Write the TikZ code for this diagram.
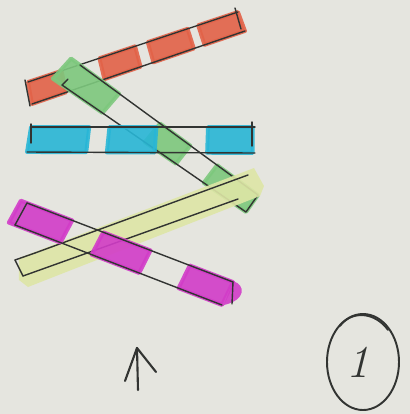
\documentclass[tikz,border=0pt]{standalone}
\usetikzlibrary{calc}
\definecolor{paper}{RGB}{229,229,223}
\definecolor{ink}{RGB}{50,52,50}
\definecolor{redc}{RGB}{226,98,72}
\definecolor{greenc}{RGB}{125,200,125}
\definecolor{cyanc}{RGB}{40,182,214}
\definecolor{yellowc}{RGB}{222,230,166}
\definecolor{magc}{RGB}{210,60,200}
\newcommand\stickpatch[4]{%
  \fill[#1,draw=#1,line width=2.2pt,line join=round,opacity=0.9]
    ($(#2S1)!#3!(#2E1)$) -- ($(#2S1)!#4!(#2E1)$) -- ($(#2S2)!#4!(#2E2)$) -- ($(#2S2)!#3!(#2E2)$) -- cycle;}
\tikzset{edge/.style={draw=ink,line width=0.8pt,line cap=round,line join=round}}
\begin{document}
\begin{tikzpicture}[x={(0.02cm,0)},y={(0,-0.02cm)}]
\fill[paper] (0,0) rectangle (410,414);
\useasboundingbox (0,0) rectangle (410,414);
% stick corners
\coordinate (rS1) at (28,82);  \coordinate (rE1) at (238,12);
\coordinate (rS2) at (32,104); \coordinate (rE2) at (245,31);
\coordinate (gS1) at (80,65);  \coordinate (gE1) at (258,195);
\coordinate (gS2) at (62,85);  \coordinate (gE2) at (246,212);
\coordinate (cS1) at (31,127); \coordinate (cE1) at (255,127);
\coordinate (cS2) at (27,152); \coordinate (cE2) at (255,153);
\coordinate (yS1) at (35,253); \coordinate (yE1) at (248,175);
\coordinate (yS2) at (23,276); \coordinate (yE2) at (238,199);
\coordinate (mS1) at (27,203); \coordinate (mE1) at (233,282);
\coordinate (mS2) at (15,225); \coordinate (mE2) at (222,305);
% red stick
\stickpatch{redc}{r}{0.0}{0.16}
\stickpatch{redc}{r}{0.34}{0.51}
\stickpatch{redc}{r}{0.57}{0.76}
\stickpatch{redc}{r}{0.81}{1.0}
\draw[edge] (rS1) -- (rE1);
\draw[edge] (rS2) -- (rE2);
\draw[edge] ($(rS1)+(-3,-2)$) -- ($(rS2)+(-2,2)$);
\draw[edge] ($(rE1)+(-3,-4)$) -- ($(rE2)+(-4,-2)$);
% green stick
\stickpatch{greenc}{g}{-0.05}{0.22}
\stickpatch{greenc}{g}{0.45}{0.62}
\stickpatch{greenc}{g}{0.77}{1.0}
\draw[edge] (gS1) -- (gE1) -- (gE2) -- (gS2);
\draw[edge] (gS2) -- ++(6,-6);
% cyan stick
\stickpatch{cyanc}{c}{0.0}{0.26}
\stickpatch{cyanc}{c}{0.35}{0.56}
\stickpatch{cyanc}{c}{0.79}{0.99}
\draw[edge] (cS1) -- (cE1);
\draw[edge] (cS2) -- (cE2);
\draw[edge] (31,124) -- (31,143);
\draw[edge] (252,122) -- (252,146);
% yellow stick
\fill[yellowc,opacity=0.9] (19,258) -- (254,168) -- (264,186) -- (260,196) -- (28,287) -- (19,280) -- cycle;
\draw[edge] (yS1) -- (yE1);
\draw[edge] (yS2) -- (yE2);
\draw[edge] ($(yS1)+(-20,7)$) -- (yS1);
\draw[edge] ($(yS1)+(-20,7)$) -- (yS2);
% magenta stick
\stickpatch{magc}{m}{-0.03}{0.22}
\stickpatch{magc}{m}{0.37}{0.6}
\stickpatch{magc}{m}{0.79}{1.0}
\fill[magc,opacity=0.9] ($(mE1)+(0,-1)$) .. controls (246,285) and (246,300) .. ($(mE2)+(2,0)$) -- cycle;
\draw[edge] (mS1) -- (mE1);
\draw[edge] (mS2) -- (mE2);
\draw[edge] (mS1) -- (mS2);
\draw[edge] (233,282) -- (232,304);
% arrow
\draw[edge,line width=1.2pt] (138,390) -- (137,348);
\draw[edge,line width=1.2pt] (125,381) -- (137,348) -- (156,372);
% circled number
\draw[edge,line width=1.1pt] (363,362) ellipse [x radius=36, y radius=48];
\draw[edge,line width=1.0pt] (340,326) .. controls (352,310) and (375,312) .. (388,330);
\node[text=ink,font=\fontsize{26}{26}\selectfont\itshape] (one) at (358,362) {1};
\end{tikzpicture}
\end{document}
